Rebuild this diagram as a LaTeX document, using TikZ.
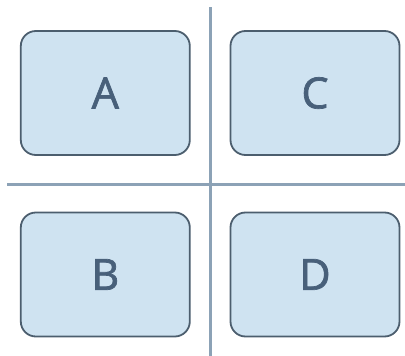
\documentclass[tikz,border=0pt]{standalone}
\usepackage{fontspec}
\setmainfont{Open Sans}
\definecolor{boxfill}{HTML}{CFE3F1}
\definecolor{boxline}{HTML}{4C5E6E}
\definecolor{txt}{HTML}{48607A}
\definecolor{sep}{HTML}{8CA2B6}
\newcommand{\heavytext}[1]{\special{pdf:literal direct 2 Tr 0.7 w}#1\special{pdf:literal direct 0 Tr}}
\begin{document}
\begin{tikzpicture}[x=1pt,y=-1pt,
  card/.style={draw=boxline,fill=boxfill,line width=1.8pt,rounded corners=15pt,
    minimum width=169pt,minimum height=124pt,inner sep=0pt,
    font=\fontsize{43}{43}\selectfont,text=txt},
  sepline/.style={draw=sep,line width=2.5pt}]
\useasboundingbox (0,0) rectangle (405,356);
\coordinate (vtop) at (210.5,7);
\coordinate (vbot) at (210.5,356);
\coordinate (hl) at (7,184.5);
\coordinate (hr) at (405,184.5);
\draw[sepline] (vtop) -- (vbot);
\draw[sepline] (hl) -- (hr);
\node[card] (A) at (105.3,93) {\raisebox{-1pt}{\heavytext{A}}};
\node[card] (C) at (315,93) {\raisebox{-1pt}{\heavytext{C}}};
\node[card] (B) at (105.3,274.5) {\raisebox{-1pt}{\heavytext{B}}};
\node[card] (D) at (315,274.5) {\raisebox{-1pt}{\heavytext{D}}};
\end{tikzpicture}
\end{document}
